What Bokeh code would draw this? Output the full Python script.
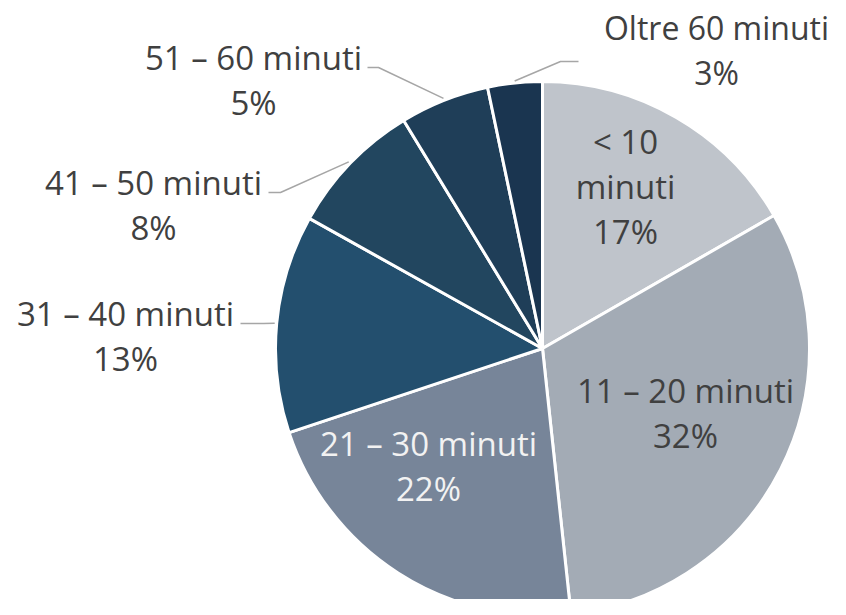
import math
from bokeh.plotting import figure
from bokeh.models import Range1d, ColumnDataSource
from bokeh.core.properties import value
from bokeh.embed import file_html
from bokeh.resources import INLINE

# ---- data ----
categories = ["< 10 minuti", "11 – 20 minuti", "21 – 30 minuti", "31 – 40 minuti",
              "41 – 50 minuti", "51 – 60 minuti", "Oltre 60 minuti"]
label_lines = [["< 10", "minuti"], ["11 – 20 minuti"], ["21 – 30 minuti"], ["31 – 40 minuti"],
               ["41 – 50 minuti"], ["51 – 60 minuti"], ["Oltre 60 minuti"]]
values = [16.7, 31.6, 21.6, 13.2, 8.2, 5.4, 3.3]

# ---- style / layout ----
colors = ["#bfc4cb", "#a3abb5", "#778599", "#234f6e", "#22465f", "#1f3e58", "#1a3550"]
text_colors = ["#404040", "#404040", "#f2f2f2", "#404040", "#404040", "#404040", "#404040"]
font_sizes = ["33px", "33px", "33px", "33px", "33px", "33px", "32px"]
FW, FH = 830, 599
CX, CY, R = 542, 348, 267          # screen px
# label anchor: centre x, baseline of first line (screen px)
label_pos = [(625, 151), (685, 400), (428, 453), (125, 323), (153, 192), (253, 67), (716, 37)]
TEXT_SHIFT = -10
# leader: (text-end x, elbow x, y) or None
leaders = [None, None, None, (240, 263, 323), (268, 280, 192), (367, 378, 67), (578, 560, 61)]
LINE_H = 45
FONT = "Open Sans"

def sy(Y):
    return FH - Y

p = figure(width=FW, height=FH, output_backend="svg", toolbar_location=None,
           x_range=Range1d(0, FW), y_range=Range1d(0, FH), min_border=0)
p.axis.visible = False
p.grid.visible = False
p.outline_line_color = None
p.background_fill_color = "white"

total = sum(values)
cum = []
c = 0
for v in values:
    cum.append((c, c + v))
    c += v

starts = [math.pi / 2 - 2 * math.pi * b / total for a, b in cum]
ends = [math.pi / 2 - 2 * math.pi * a / total for a, b in cum]
src = ColumnDataSource(dict(start=starts, end=ends, color=colors))
p.wedge(x=CX, y=sy(CY), radius=R, radius_units="data", start_angle="start", end_angle="end",
        fill_color="color", line_color="white", line_width=3, source=src)

# labels
tx, ty, tt, tc, ts = [], [], [], [], []
for i, (lines, v) in enumerate(zip(label_lines, values)):
    x0, y0 = label_pos[i]
    all_lines = lines + [f"{round(v / total * 100)}%"]
    for j, s in enumerate(all_lines):
        tx.append(x0)
        ty.append(sy(y0 + j * LINE_H + TEXT_SHIFT))
        tt.append(s)
        tc.append(text_colors[i])
        ts.append(font_sizes[i])
tsrc = ColumnDataSource(dict(x=tx, y=ty, text=tt, color=tc, size=ts))
p.text(x="x", y="y", text="text", text_color="color", text_font=value(FONT),
       text_font_size="size", text_align="center", text_baseline="alphabetic", source=tsrc)

# leader lines
for i, ld in enumerate(leaders):
    if ld is None:
        continue
    a, b = cum[i]
    mid = 2 * math.pi * (a + b) / 2 / total  # clockwise from top
    ex = CX + (R + 2) * math.sin(mid)
    ey = CY - (R + 2) * math.cos(mid)
    x1, x2, yy = ld
    p.line(x=[x1, x2, ex], y=[sy(yy), sy(yy), sy(ey)], line_color="#a6a6a6", line_width=1.5)

open("out.html", "w").write(file_html(p, INLINE))
